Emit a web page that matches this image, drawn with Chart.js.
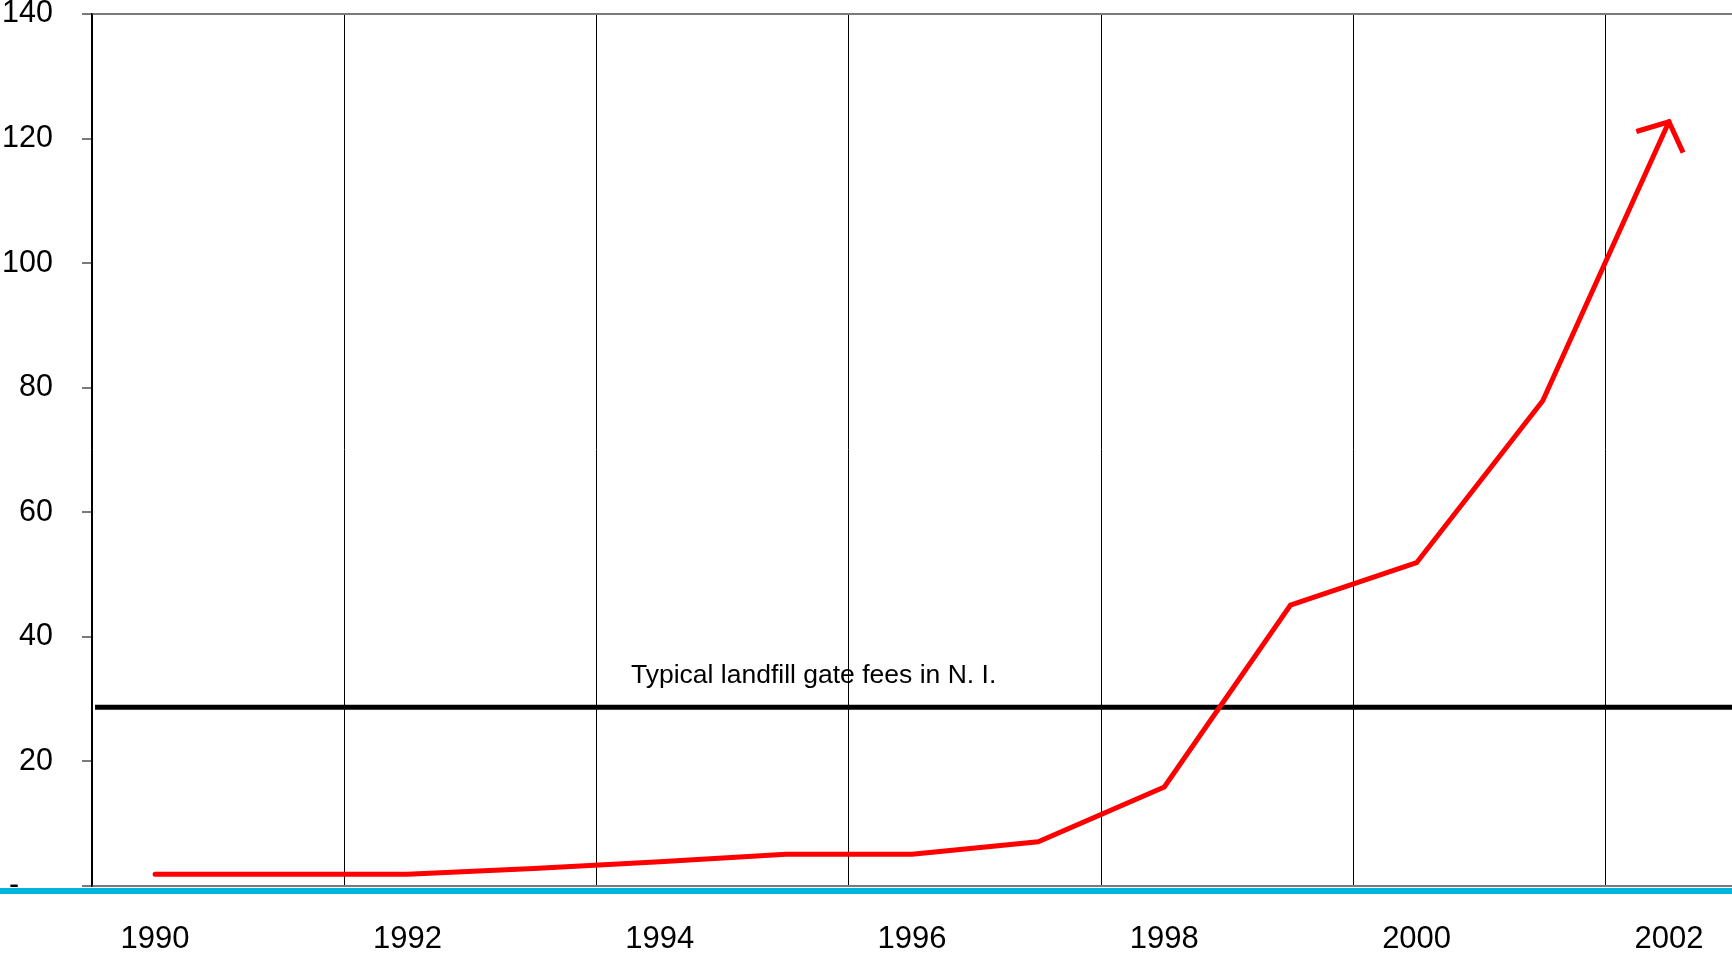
<!DOCTYPE html>
<html>
<head>
<meta charset="utf-8">
<script src="https://cdn.jsdelivr.net/npm/chart.js@4/dist/chart.umd.min.js"></script>
<style>
  html, body { margin: 0; padding: 0; background: #fff; }
  #wrap { width: 1732px; height: 954px; position: relative; }
</style>
</head>
<body>
<div id="wrap"><canvas id="feeChart"></canvas></div>
<script>
// years on the x axis, one category per year
const years = ["1990", "1991", "1992", "1993", "1994", "1995", "1996",
  "1997", "1998", "1999", "2000", "2001", "2002"];
// red line values
const costValues = [1.9, 1.9, 1.9, 2.8, 3.9, 5.1, 5.1, 7.1, 15.9, 45.1, 51.9, 77.9, 122.7];
// level of the black reference line
const gateFeeLevel = 28.7;
const gateFeeLabel = "Typical landfill gate fees in N. I.";
const yTicks = [0, 20, 40, 60, 80, 100, 120, 140];

const FONT = "'Liberation Sans', Arial, sans-serif";

// black reference line + its caption, cyan rule under the axis
const refLinePlugin = {
  id: "refLine",
  beforeDatasetsDraw(chart) {
    const { ctx, chartArea, scales } = chart;
    const y = scales.y.getPixelForValue(gateFeeLevel);
    ctx.save();
    ctx.strokeStyle = "#000";
    ctx.lineWidth = 5;
    ctx.beginPath();
    ctx.moveTo(chartArea.left + 3, y);
    ctx.lineTo(chartArea.right, y);
    ctx.stroke();
    ctx.fillStyle = "#000";
    ctx.font = "26.5px " + FONT;
    ctx.textAlign = "center";
    ctx.textBaseline = "alphabetic";
    ctx.fillText(gateFeeLabel, chartArea.left + 0.44 * (chartArea.right - chartArea.left), y - 24);
    ctx.restore();
  },
  afterDraw(chart) {
    const { ctx, chartArea } = chart;
    ctx.save();
    ctx.strokeStyle = "#00B4DC";
    ctx.lineWidth = 6;
    ctx.beginPath();
    ctx.moveTo(0, chartArea.bottom + 5);
    ctx.lineTo(chart.width, chartArea.bottom + 5);
    ctx.stroke();
    ctx.restore();
  },
};

// arrow head on the end of the red line
const arrowPlugin = {
  id: "arrowHead",
  afterDatasetsDraw(chart) {
    const pts = chart.getDatasetMeta(0).data;
    const n = pts.length;
    if (n < 2) return;
    const a = pts[n - 2], b = pts[n - 1];
    const ang = Math.atan2(b.y - a.y, b.x - a.x);
    const len = 34, spread = (49 * Math.PI) / 180;
    const ctx = chart.ctx;
    ctx.save();
    ctx.strokeStyle = "#FF0000";
    ctx.lineWidth = 5;
    ctx.lineCap = "butt";
    ctx.beginPath();
    ctx.moveTo(b.x + len * Math.cos(ang + Math.PI - spread), b.y + len * Math.sin(ang + Math.PI - spread));
    ctx.lineTo(b.x, b.y);
    ctx.lineTo(b.x + len * Math.cos(ang + Math.PI + spread), b.y + len * Math.sin(ang + Math.PI + spread));
    ctx.stroke();
    ctx.restore();
  },
};

const ctx = document.getElementById("feeChart").getContext("2d");
new Chart(ctx, {
  type: "line",
  data: {
    labels: years,
    datasets: [
      {
        data: costValues,
        borderColor: "#FF0000",
        borderWidth: 5,
        borderCapStyle: "round",
        borderJoinStyle: "miter",
        pointRadius: 0,
        tension: 0,
        fill: false,
      },
    ],
  },
  options: {
    responsive: true,
    maintainAspectRatio: false,
    animation: false,
    layout: { padding: { top: 14, left: 0, right: 0, bottom: 0 } },
    plugins: { legend: { display: false }, tooltip: { enabled: false } },
    scales: {
      x: {
        type: "category",
        offset: true,
        grid: {
          offset: true,
          drawTicks: false,
          lineWidth: 1,
          color: (c) => (c.index % 2 === 0 && c.index < years.length ? "#000" : "rgba(0,0,0,0)"),
        },
        border: { display: true, color: "#7a7a7a", width: 2 },
        ticks: {
          autoSkip: false,
          maxRotation: 0,
          padding: 35,
          color: "#000",
          font: { family: FONT, size: 31 },
          callback: (v, i) => (i % 2 === 0 ? years[i] : ""),
        },
        afterFit: (s) => { s.height = 68; s.paddingLeft = 0; s.paddingRight = 0; },
      },
      y: {
        min: 0,
        max: 140,
        afterBuildTicks: (s) => { s.ticks = yTicks.map((v) => ({ value: v })); },
        grid: {
          drawTicks: true,
          tickLength: 10,
          tickColor: "#7a7a7a",
          lineWidth: 2,
          color: (c) => (c.tick && c.tick.value === 140 ? "#7a7a7a" : "rgba(0,0,0,0)"),
        },
        border: { display: true, color: "#000", width: 1.5 },
        ticks: {
          padding: 29,
          color: "#000",
          font: { family: FONT, size: 30.5 },
          callback: (v) => (v === 0 ? "-    " : v),
        },
        afterFit: (s) => { s.width = 92; s.paddingTop = 0; s.paddingBottom = 0; },
      },
    },
  },
  plugins: [refLinePlugin, arrowPlugin],
});
</script>
</body>
</html>
